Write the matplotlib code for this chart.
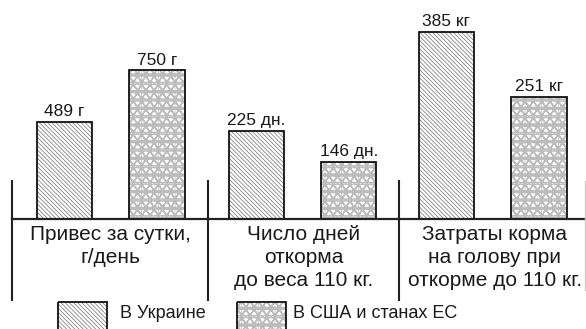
import matplotlib.pyplot as plt
import matplotlib.hatch as mhatch
from matplotlib.patches import Rectangle

plt.rcParams['font.family'] = ['Liberation Sans', 'DejaVu Sans']
plt.rcParams['hatch.linewidth'] = 0.5

# rings nearly touching for the 'O' hatch
mhatch.LargeCircles.size = 0.95

# data
groups = ['Привес за сутки,\nг/день',
          'Число дней\nоткорма\nдо веса 110 кг.',
          'Затраты корма\nна голову при\nоткорме до 110 кг.']
ukraine = [489, 225, 385]
usa_eu = [750, 146, 251]
units = ['г', 'дн.', 'кг']
series_names = ['В Украине', 'В США и станах ЕС']

W, H = 586, 329
fig = plt.figure(figsize=(W / 100, H / 100), dpi=100)

base_y = 219            # pixel row of the common baseline
group_left = [18, 210, 400]
group_w = 185
y_top = [1103, 560, 450.5]   # each group has its own vertical scale

hatch_ua = '\\' * 8
hatch_us = 'OO+'
col_ua = '#707070'
col_us = '#bcbcbc'


def hatched_bar(ax, x, h, hatch, color):
    ax.bar(x, h, 0.6, color='white', edgecolor=color, hatch=hatch, linewidth=0)
    ax.bar(x, h, 0.6, fill=False, edgecolor='#111111', linewidth=1.3)


for i in range(3):
    ax = fig.add_axes([group_left[i] / W, (H - base_y) / H, group_w / W, base_y / H])
    ax.set_xlim(0, 2)
    ax.set_ylim(0, y_top[i])
    ax.axis('off')
    hatched_bar(ax, 0.5, ukraine[i], hatch_ua, col_ua)
    hatched_bar(ax, 1.5, usa_eu[i], hatch_us, col_us)
    for x, v in [(0.5, ukraine[i]), (1.5, usa_eu[i])]:
        ax.annotate(f'{v} {units[i]}', (x, v), xytext=(0, 4), textcoords='offset points',
                    ha='center', va='baseline', fontsize=12.5, color='#1a1a1a',
                    annotation_clip=False)

# frame lines, category captions and legend in pixel coordinates
ov = fig.add_axes([0, 0, 1, 1], zorder=5)
ov.set_xlim(0, W)
ov.set_ylim(H, 0)
ov.axis('off')
ov.patch.set_alpha(0)

ov.plot([12, W], [base_y, base_y], color='#222222', lw=1.6)
for sx in [12, 208, 399]:
    ov.plot([sx, sx], [181, 300], color='#222222', lw=1.5)
ov.plot([585, 585], [181, 290], color='#cccccc', lw=1)

centers = [110, 303.5, 495]
for cx, label in zip(centers, groups):
    ov.text(cx, 225, label, ha='center', va='top', fontsize=15,
            linespacing=1.27, color='#1a1a1a')

leg = [(58, 120, hatch_ua, col_ua), (237, 293, hatch_us, col_us)]
for (px, tx, hatch, color), name in zip(leg, series_names):
    ov.add_patch(Rectangle((px, 302), 49, 32, facecolor='white', edgecolor=color,
                           hatch=hatch, linewidth=0))
    ov.add_patch(Rectangle((px, 302), 49, 32, fill=False, edgecolor='#111111', lw=1.3))
    ov.text(tx, 313, name, ha='left', va='center', fontsize=13, color='#1a1a1a')

plt.savefig('out.png', dpi=100)
